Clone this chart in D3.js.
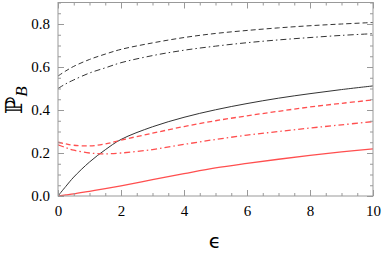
<!DOCTYPE html>
<html>
    <head>
        <meta charset="utf-8">
        <script src="https://d3js.org/d3.v7.min.js"></script>
        <style>
            body { margin: 0; background: #fff; }
        </style>
    </head>
    <body>
        <div id="my_dataviz"></div>
        <script>
            // data
            var eps = [0, 0.25, 0.5, 1, 1.5, 2, 3, 4, 5, 6, 7, 8, 9, 10];
            var blackSolid   = [0, 0.045, 0.088, 0.158, 0.215, 0.263, 0.322, 0.366, 0.401, 0.43, 0.455, 0.476, 0.495, 0.512];
            var blackDashed  = [0.558, 0.582, 0.603, 0.635, 0.66, 0.682, 0.712, 0.737, 0.756, 0.77, 0.782, 0.792, 0.80, 0.807];
            var blackDashDot = [0.50, 0.522, 0.54, 0.572, 0.596, 0.62, 0.653, 0.678, 0.697, 0.713, 0.726, 0.737, 0.747, 0.755];
            var redSolid     = [0, 0.005, 0.01, 0.022, 0.034, 0.047, 0.076, 0.104, 0.131, 0.152, 0.171, 0.189, 0.205, 0.219];
            var redDashed    = [0.25, 0.242, 0.236, 0.233, 0.242, 0.26, 0.292, 0.323, 0.35, 0.373, 0.394, 0.414, 0.431, 0.447];
            var redDashDot   = [0.238, 0.225, 0.213, 0.2, 0.196, 0.2, 0.216, 0.24, 0.263, 0.283, 0.3, 0.316, 0.331, 0.346];

            var xTicks = [0, 2, 4, 6, 8, 10];
            var yTicks = [0.0, 0.2, 0.4, 0.6, 0.8];

            var width = 382, height = 253;
            var margin = {left: 58, right: 9, top: 2.5, bottom: 57};

            var svg = d3.select("#my_dataviz")
                .append("svg")
                    .attr("width", width)
                    .attr("height", height);

            var x = d3.scaleLinear().domain([0, 10]).range([margin.left, width - margin.right]);
            var y = d3.scaleLinear().domain([0, 0.9]).range([height - margin.bottom, margin.top]);

            // curves
            var series = [
                {v: blackSolid,   color: "#333", dash: null,          w: 1},
                {v: blackDashed,  color: "#333", dash: "5,3",         w: 1},
                {v: blackDashDot, color: "#333", dash: "6,3,1.5,3",   w: 1},
                {v: redSolid,     color: "#ff4f4f", dash: null,       w: 1.3},
                {v: redDashed,    color: "#ff4f4f", dash: "5,3",      w: 1.3},
                {v: redDashDot,   color: "#ff4f4f", dash: "6,3,1.5,3", w: 1.3}
            ];

            var line = d3.line()
                .x(function(d, i) { return x(eps[i]); })
                .y(function(d) { return y(d); })
                .curve(d3.curveCatmullRom.alpha(0.5));

            svg.append("defs").append("clipPath").attr("id", "clip")
                .append("rect")
                    .attr("x", margin.left).attr("y", margin.top)
                    .attr("width", width - margin.left - margin.right)
                    .attr("height", height - margin.top - margin.bottom);

            svg.append("g").attr("clip-path", "url(#clip)")
                .selectAll("path")
                .data(series)
                .join("path")
                    .attr("d", function(d) { return line(d.v); })
                    .attr("fill", "none")
                    .attr("stroke", function(d) { return d.color; })
                    .attr("stroke-width", function(d) { return d.w; })
                    .attr("stroke-dasharray", function(d) { return d.dash; });

            // frame with inward ticks on all sides
            var frameColor = "#999";
            function styleAxis(g) {
                g.select(".domain").remove();
                g.selectAll("line").attr("stroke", frameColor);
                g.selectAll("text")
                    .attr("fill", "#000")
                    .style("font-family", "'Liberation Serif', serif")
                    .style("font-size", "15px");
            }
            var xMinor = d3.range(0, 10.01, 0.5);
            var yMinor = d3.range(0, 0.901, 0.05);

            // bottom
            svg.append("g").attr("transform", `translate(0,${y(0)})`)
                .call(d3.axisBottom(x).tickValues(xMinor).tickSize(-3).tickFormat(""))
                .call(styleAxis);
            svg.append("g").attr("transform", `translate(0,${y(0)})`)
                .call(d3.axisBottom(x).tickValues(xTicks).tickSize(-6).tickPadding(9).tickFormat(d3.format("d")))
                .call(styleAxis);
            // top
            svg.append("g").attr("transform", `translate(0,${y(0.9)})`)
                .call(d3.axisTop(x).tickValues(xMinor).tickSize(-3).tickFormat(""))
                .call(styleAxis);
            svg.append("g").attr("transform", `translate(0,${y(0.9)})`)
                .call(d3.axisTop(x).tickValues(xTicks).tickSize(-6).tickFormat(""))
                .call(styleAxis);
            // left
            svg.append("g").attr("transform", `translate(${x(0)},0)`)
                .call(d3.axisLeft(y).tickValues(yMinor).tickSize(-3).tickFormat(""))
                .call(styleAxis);
            svg.append("g").attr("transform", `translate(${x(0)},0)`)
                .call(d3.axisLeft(y).tickValues(yTicks).tickSize(-6).tickPadding(8).tickFormat(d3.format(".1f")))
                .call(styleAxis);
            // right
            svg.append("g").attr("transform", `translate(${x(10)},0)`)
                .call(d3.axisRight(y).tickValues(yMinor).tickSize(-3).tickFormat(""))
                .call(styleAxis);
            svg.append("g").attr("transform", `translate(${x(10)},0)`)
                .call(d3.axisRight(y).tickValues(yTicks).tickSize(-6).tickFormat(""))
                .call(styleAxis);

            svg.append("rect")
                .attr("x", x(0)).attr("y", y(0.9))
                .attr("width", x(10) - x(0)).attr("height", y(0) - y(0.9))
                .attr("fill", "none").attr("stroke", frameColor).attr("stroke-width", 1);

            // axis labels
            svg.append("text")
                .attr("x", 215).attr("y", 248)
                .attr("text-anchor", "middle")
                .style("font-family", "DejaVu Sans, sans-serif")
                .style("font-size", "20px")
                .text("ϵ");

            var yl = svg.append("text")
                .attr("transform", "translate(22,114) rotate(-90)")
                .style("font-family", "DejaVu Serif, DejaVu Sans, serif")
                .style("font-size", "23px");
            yl.append("tspan").text("ℙ");
            yl.append("tspan").attr("dy", 5)
                .style("font-family", "Liberation Serif, serif")
                .style("font-style", "italic")
                .style("font-size", "17px")
                .text("B");
        </script>
    </body>
</html>
